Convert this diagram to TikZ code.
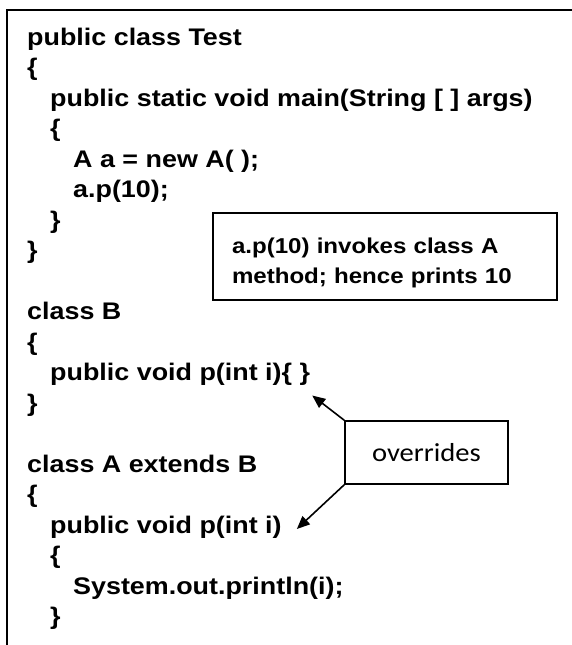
\documentclass[tikz,border=0pt]{standalone}
\usepackage{fontspec}
\setmainfont[FakeStretch=1.12]{Liberation Sans}
\newfontfamily\calibri[FakeStretch=1.1]{Carlito}
\usetikzlibrary{arrows.meta}
\tikzset{
  code/.style={anchor=base west, inner sep=0pt, font=\fontsize{24}{28}\selectfont\bfseries},
  box/.style={draw, line width=1.6pt, rectangle},
  arr/.style={line width=1.6pt, -{Triangle[length=13pt,width=11pt]}}
}
\begin{document}
\begin{tikzpicture}[x=1pt,y=-1pt]
  \useasboundingbox (0,0) rectangle (572,645);
  \draw[line width=1.6pt] (572,10) -- (7,10) -- (7,645);
  % class Test
  \node[code] (l0) at (27,45) {public class Test};
  \node[code] (l1) at (27,75.5) {\{};
  \node[code] (l2) at (50,106) {public static void main(String [ ] args)};
  \node[code] (l3) at (50,136.5) {\{};
  \node[code] (l4) at (73,167) {A a = new A( );};
  \node[code] (l5) at (73,197.5) {a.p(10);};
  \node[code] (l6) at (50,228) {\}};
  \node[code] (l7) at (27,258.5) {\}};
  % class B
  \node[code] (l9) at (27,319.5) {class B};
  \node[code] (l10) at (27,350) {\{};
  \node[code] (bp) at (50,380.5) {public void p(int i)\{ \}};
  \node[code] (l12) at (27,411) {\}};
  % class A
  \node[code] (l14) at (27,472) {class A extends B};
  \node[code] (l15) at (27,502.5) {\{};
  \node[code] (ap) at (50,533) {public void p(int i)};
  \node[code] (l17) at (50,563.5) {\{};
  \node[code] (l18) at (73,594) {System.out.println(i);};
  \node[code] (l19) at (50,624.5) {\}};
  % notes
  \node[box, minimum width=344pt, minimum height=87pt, text width=306pt, inner xsep=19pt,
        align=left, font=\fontsize{21.5}{30}\selectfont\bfseries] (note) at (385,256.5)
        {\rule{0pt}{28pt}a.p(10) invokes class A\\method; hence prints 10};
  \node[box, minimum width=163pt, minimum height=63pt, font=\calibri\fontsize{26}{30}\selectfont]
        (ovr) at (426.5,452.5) {overrides};
  \draw[arr] (ovr.north west) -- ([shift={(2,15)}]bp.base east);
  \draw[arr] (ovr.south west) -- ([shift={(15,-4)}]ap.base east);
\end{tikzpicture}
\end{document}
